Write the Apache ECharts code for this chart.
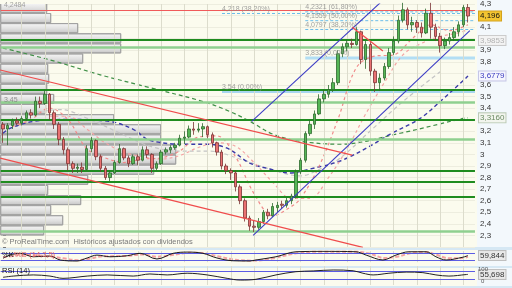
<!DOCTYPE html>
<html><head><meta charset="utf-8">
<script src="https://cdn.jsdelivr.net/npm/echarts@6/dist/echarts.min.js"></script>
<style>html,body{margin:0;padding:0;background:#f3f8fc;}#c{width:512px;height:288px;}</style>
</head><body><div id="c"></div>
<script>
// ---------- DATA ----------
const opens  = [3.26,3.22,3.25,3.29,3.27,3.31,3.36,3.34,3.46,3.44,3.52,3.36,3.26,3.13,3.04,2.92,2.88,2.89,2.87,3.05,3.12,2.98,2.88,2.80,2.84,2.93,3.05,2.97,2.92,2.98,2.95,3.04,3.00,2.88,2.92,3.02,3.04,3.06,3.08,3.14,3.15,3.22,3.21,3.22,3.24,3.17,3.10,3.02,2.90,2.86,2.84,2.72,2.60,2.45,2.38,2.37,2.42,2.50,2.47,2.54,2.57,2.56,2.60,2.64,2.85,2.95,3.18,3.26,3.35,3.48,3.52,3.56,3.62,3.87,3.93,3.96,3.95,4.06,3.82,3.95,3.72,3.62,3.66,3.76,3.88,3.98,4.16,4.25,4.12,4.14,4.10,4.05,4.22,4.10,4.02,3.94,3.98,4.01,4.06,4.12,4.27];
const closes = [3.22,3.25,3.29,3.27,3.31,3.36,3.34,3.46,3.44,3.52,3.36,3.26,3.13,3.04,2.92,2.88,2.89,2.87,3.05,3.12,2.98,2.88,2.80,2.84,2.93,3.05,2.97,2.92,2.98,2.95,3.04,3.00,2.88,2.92,3.02,3.04,3.06,3.08,3.14,3.15,3.22,3.21,3.22,3.24,3.17,3.10,3.02,2.90,2.86,2.84,2.72,2.60,2.45,2.38,2.37,2.42,2.50,2.47,2.55,2.56,2.56,2.60,2.64,2.85,2.95,3.18,3.26,3.35,3.48,3.52,3.56,3.62,3.87,3.93,3.96,3.95,4.06,3.82,3.95,3.72,3.62,3.66,3.76,3.88,3.98,4.16,4.25,4.12,4.14,4.10,4.05,4.22,4.10,4.02,3.94,3.98,4.01,4.06,4.12,4.27,4.196];
const lows   = [3.10,3.08,3.22,3.25,3.25,3.29,3.31,3.33,3.40,3.43,3.30,3.22,3.08,3.00,2.86,2.84,2.84,2.84,2.86,3.02,2.95,2.85,2.78,2.77,2.83,2.92,2.95,2.89,2.91,2.91,2.94,2.97,2.84,2.86,2.91,3.00,3.01,3.04,3.07,3.09,3.14,3.17,3.19,3.15,3.14,3.06,2.99,2.87,2.83,2.78,2.68,2.57,2.42,2.34,2.33,2.35,2.40,2.44,2.46,2.50,2.53,2.54,2.57,2.62,2.83,2.93,3.16,3.22,3.34,3.45,3.49,3.54,3.60,3.84,3.89,3.92,3.94,3.78,3.74,3.68,3.54,3.55,3.64,3.74,3.86,3.96,4.14,4.08,4.06,4.05,4.01,4.04,4.00,3.98,3.88,3.91,3.95,3.98,4.02,4.10,4.14];
const highs  = [3.28,3.27,3.31,3.32,3.33,3.38,3.39,3.50,3.50,3.56,3.53,3.38,3.28,3.15,3.06,2.94,2.92,2.93,3.08,3.15,3.13,3.00,2.90,2.86,2.95,3.09,3.06,2.99,3.00,3.00,3.07,3.07,3.01,2.94,3.04,3.06,3.08,3.10,3.17,3.20,3.25,3.28,3.27,3.27,3.25,3.19,3.11,3.04,2.92,2.88,2.86,2.74,2.62,2.47,2.43,2.45,2.52,2.53,2.58,2.59,2.60,2.63,2.66,2.87,2.97,3.20,3.30,3.38,3.52,3.56,3.60,3.66,3.90,3.96,3.99,4.00,4.10,4.07,3.98,3.97,3.74,3.70,3.79,3.92,4.02,4.20,4.31,4.27,4.19,4.16,4.14,4.26,4.31,4.13,4.05,4.01,4.05,4.10,4.15,4.29,4.30];

// price tick labels hidden under value tags
const hiddenTicks = [4.2, 4.0, 3.7, 3.3, 2.2];
// vertical grid (weekly) days
const gridDays = [4,9,14,19,24,29,34,39,44,49,54,59,64,69,74,79,84,89,94,99];

// volume at price: bin lower edges (price) and volume (k)
const vapLow = [2.300,2.387,2.475,2.562,2.649,2.737,2.824,2.912,2.999,3.086,3.174,3.261,3.348,3.436,3.523,3.611,3.698,3.785,3.873,3.960,4.047,4.135,4.222];
const vapTop = 4.309;
const vapVolume = [43,62,50,80,47,87,153,175,175,160,160,113,45,53,46,48,47,82,120,120,77,50,46];

// moving averages [day, price]
const maGreen = [[0,3.919],[10.1,3.817],[20.9,3.688],[31.6,3.577],[43.0,3.457],[48.8,3.371],[53.5,3.277],[58.1,3.174],[63.9,3.114],[72.5,3.088],[85.4,3.183],[98.9,3.311],[100,3.316]];
const maBlue = [[0,3.183],[1.5,3.225],[6.5,3.285],[13.8,3.302],[23.0,3.285],[28.0,3.217],[31.6,3.122],[39.6,3.088],[43.9,3.088],[48.2,3.054],[53.1,2.925],[57.4,2.874],[61.7,2.840],[66.0,2.874],[72.5,2.943],[78.9,3.071],[83.2,3.174],[89.7,3.311],[94.0,3.457],[99.4,3.654],[100,3.6779]];
const maGray = [[5.8,3.354],[12.3,3.388],[18.7,3.302],[25.2,3.183],[31.6,3.071],[38.1,3.028],[44.5,3.028],[51,2.96],[57.4,2.874],[63.9,2.814],[68.2,2.874],[72.5,2.968],[78.9,3.2],[86,3.457],[94,3.714]];
const maPinkFast = [[2,3.24],[6,3.30],[10,3.40],[14,3.30],[18,3.05],[22,2.97],[26,2.93],[30,2.96],[34,2.97],[38,3.03],[42,3.15],[46,3.16],[50,2.98],[54,2.66],[58,2.47],[62,2.55],[64,2.62],[68,2.90],[72,3.30],[76,3.75],[80,3.85],[84,3.86],[88,4.00],[92,4.12],[96,4.07],[100,4.12]];
const maPinkSlow = [[10,3.33],[14,3.33],[18,3.22],[22,3.10],[26,3.02],[30,2.98],[34,2.96],[38,2.99],[42,3.06],[46,3.10],[50,3.07],[54,2.93],[58,2.76],[62,2.62],[66,2.62],[70,2.80],[74,3.05],[78,3.35],[82,3.62],[86,3.86],[90,3.96],[94,4.02],[98,4.05],[100,4.08]];

// trend lines [day, price]
const channelUpper = [[53.5,3.285],[81.1,4.31]];
const channelLower = [[53.8,2.30],[100.4,4.07]];
const redUpper = [[-0.6,3.73],[75.1,2.994]];
const redLower = [[-0.6,2.968],[77.4,2.197]];
const redShort = [[75.1,4.10],[81.7,3.894]];

// horizontal levels
const redLevels = [4.25];
const greenDark = [3.99,3.557,3.30,2.857,2.763,2.634];
const greenLight = [3.934,3.448,3.128,2.337];
const fibLevels = [4.218,4.2321,4.1559,4.0797];
const fibStart = [47.1,65,65,65];
const fibText = ['4,218 (38,20%)','4,2321 (61,80%)','4,1559 (50,00%)','4,0797 (38,20%)'];
const zeroLevels = [3.833,3.54];
const zeroStart = [65,47.1];
const zeroText = ['3,833 (0,00%)','3,54 (0,00%)'];

// stochastic %K / %D  [day, value]
const stochK = [[0,35],[1.5,64],[3.7,80],[6.5,49],[10.1,55],[12.3,20],[15.9,11],[18.1,38],[20.2,64],[23,49],[26.7,58],[29.5,80],[33.1,29],[36.6,80],[39.6,91],[43,80],[46,38],[49.5,13],[53.1,11],[54.4,20],[58.7,49],[63,94],[68.8,98],[75.9,94],[78.1,64],[81.7,20],[84.5,64],[87.3,94],[91,94],[93.1,49],[95.3,20],[98.9,45],[100,59.844]];
const stochD = [[0,45],[2,55],[4,68],[7,62],[10,52],[13,35],[16,18],[19,35],[21,52],[24,55],[27,58],[30,70],[33,50],[36,62],[40,85],[43,82],[46,55],[50,22],[54,14],[58,35],[63,80],[68,95],[76,95],[79,75],[82,38],[85,52],[88,85],[91,92],[93,70],[96,35],[99,38],[100,48]];
const stochLevels = [80,20];
// RSI(14) [day, value]
const rsi = [[0,40.5],[2.2,47],[6.5,53],[10.1,47],[12.9,35],[18.1,47],[22.4,53],[28,47],[31.6,58],[35.3,53],[39.6,62],[43.9,53],[48.2,35],[51,26],[54.4,30],[58.7,53],[63,70],[66.7,74],[71,79],[75.3,75],[77.4,62],[79.6,53],[83,62],[86.7,68],[90.3,65],[93.1,53],[95.9,47],[99.6,55],[100,55.698]];
const rsiLevels = [70,30];

// ---------- CHART ----------
const N = 102;
const days = Array.from({length: N}, (_, i) => 'd' + i);
const candles = opens.map((o, i) => [o, closes[i], lows[i], highs[i]]);
const FONT = 'Liberation Sans';
const L = 0.675, W = 474.3;

function hLine(data, color, width, type, z) {
  return {type:'line', xAxisIndex:1, yAxisIndex:0, data, symbol:'none', silent:true, z: z||3,
    lineStyle:{color, width, type: type||'solid'}};
}
function ma(data, color, width, type, xi, yi, z) {
  return {type:'line', xAxisIndex:xi, yAxisIndex:yi, data, symbol:'none', smooth:0.35, silent:true, z: z||4,
    lineStyle:{color, width, type: type||'dashed'}};
}
function vGrid(xi, yi) {
  return {type:'line', xAxisIndex:xi, yAxisIndex:yi, data:[], silent:true, z:1,
    markLine:{silent:true, symbol:['none','none'], label:{show:false}, animation:false,
      lineStyle:{color:'#dcdccc', width:1, type:'solid'}, data: gridDays.map(d => ({xAxis:d}))}};
}
function levelLines(xi, yi, vals, color, width) {
  return {type:'line', xAxisIndex:xi, yAxisIndex:yi, data:[], silent:true, z:3,
    markLine:{silent:true, symbol:['none','none'], label:{show:false}, animation:false,
      lineStyle:{color, width, type:'solid'}, data: vals.map(v => ({yAxis:v}))}};
}

const series = [];
// volume at price profile
series.push({
  type:'custom', xAxisIndex:2, yAxisIndex:0, z:1, silent:true, clip:true,
  data: vapLow.map((lo, i) => [vapVolume[i], lo, i + 1 < vapLow.length ? vapLow[i+1] : vapTop]),
  encode:{x:0, y:[1,2]},
  renderItem: function (params, api) {
    const a = api.coord([0, api.value(2)]);
    const b = api.coord([api.value(0), api.value(1)]);
    return {type:'rect', shape:{x:a[0], y:a[1] + 0.5, width:b[0] - a[0], height:b[1] - a[1] - 1},
      style:{fill:new echarts.graphic.LinearGradient(0,0,0,1,[{offset:0,color:'#f7f7f7'},{offset:0.55,color:'#e0e0e0'},{offset:1,color:'#c4c4c4'}]),
        stroke:'#a2a2a2', lineWidth:1}};
  }
});
series.push(vGrid(1,0), vGrid(3,1), vGrid(4,2));
// horizontal levels
series.push(levelLines(1,0,redLevels,'#f05a5a',1.2));
series.push(levelLines(1,0,greenLight,'#8fd08f',2.5));
series.push(levelLines(1,0,greenDark,'#1f8c1f',1.8));
fibLevels.forEach((v,i) => series.push(hLine([[fibStart[i],v],[101.5,v]],'#6cbdea',1,[3,2],3)));
series.push(hLine([[zeroStart[0],zeroLevels[0]],[101.5,zeroLevels[0]]],'#b2def4',3,'solid',3));
series.push(hLine([[zeroStart[1],zeroLevels[1]],[101.5,zeroLevels[1]]],'#8ccaf0',1.5,'solid',3));
// moving averages
series.push(ma(maGreen,'#3f8f46',1.2,[4,3],1,0));
series.push(ma(maGray,'#c4c4c4',1.2,[4,3],1,0));
series.push(ma(maBlue,'#3a3aa8',1.4,[4,3],1,0));
series.push(ma(maPinkSlow,'#f4a4a4',1.2,[3,3],1,0));
series.push(ma(maPinkFast,'#f08a8a',1.2,[3,3],1,0));
// candles
series.push({type:'candlestick', xAxisIndex:0, yAxisIndex:0, data:candles, barWidth:3, z:5, silent:true,
  itemStyle:{color:'#56b656', color0:'#ea7272', borderColor:'#2d6a2d', borderColor0:'#7a3434', borderWidth:0.8}});
// trend lines
series.push(hLine(channelUpper,'#3c3cc4',1.1,'solid',6));
series.push(hLine(channelLower,'#3c3cc4',1.1,'solid',6));
series.push(hLine(redUpper,'#f04c4c',1.1,'solid',6));
series.push(hLine(redLower,'#f04c4c',1.1,'solid',6));
series.push(hLine(redShort,'#f04c4c',1.3,'solid',6));
// fib labels
const notes = fibLevels.map((v,i) => ({value:[fibStart[i], v], label:{formatter: fibText[i]}}))
  .concat(zeroLevels.map((v,i) => ({value:[zeroStart[i], v], label:{formatter: zeroText[i]}})));
notes.push({value:[0, 4.2484], label:{formatter:'4,2484', color:'#8c8c8c', position:[1,-8]}});
notes.push({value:[0, 3.45], label:{formatter:'3,45', color:'#7c7c7c', position:[1,-6]}});
series.push({type:'scatter', xAxisIndex:1, yAxisIndex:0, symbolSize:0, z:7, silent:true, clip:false,
  data:notes, label:{show:true, position:[0,-8], color:'#8a8a8a', fontSize:7, fontFamily:FONT}});
// stochastic panel
series.push(levelLines(3,1,stochLevels,'#5c5ce4',1));
series.push(ma(stochD,'#f2a2a2',2,[4,2],3,1,4));
series.push(ma(stochK,'#1c1c1c',1,'solid',3,1,5));
// RSI panel
series.push(levelLines(4,2,rsiLevels,'#5c5ce4',1));
series.push(ma(rsi,'#222222',1,'solid',4,2,5));

const hidden = x => false;
const option = {
  animation:false,
  grid:[
    {left:L, top:2, width:W, height:245},
    {left:L, top:251.1, width:W, height:11.1},
    {left:L, top:266, width:W, height:19}
  ],
  xAxis:[
    {type:'category', gridIndex:0, data:days, boundaryGap:true, show:false},
    {type:'value', gridIndex:0, min:-0.5, max:101.5, show:false},
    {type:'value', gridIndex:0, min:0, max:W, show:false},
    {type:'value', gridIndex:1, min:-0.5, max:101.5, show:false},
    {type:'value', gridIndex:2, min:-0.5, max:101.5, show:false}
  ],
  yAxis:[
    {type:'value', gridIndex:0, min:2.2, max:4.3, interval:0.1, position:'right',
      axisLine:{show:false},
      axisTick:{show:true, length:3, lineStyle:{color:'#777'}},
      splitLine:{show:true, lineStyle:{color:'#ededdf', width:1}},
      axisLabel:{color:'#333', fontSize:8, fontFamily:FONT, margin:5,
        formatter: v => { const r = Math.round(v*10)/10; return hiddenTicks.some(h => Math.abs(h-r) < 1e-6) ? '' : String(r).replace('.', ','); }}},
    {type:'value', gridIndex:1, min:0, max:100, show:false},
    {type:'value', gridIndex:2, min:0, max:100, show:false}
  ],
  series
};
const chart = echarts.init(document.getElementById('c'), null, {renderer:'canvas', width:512, height:288});
chart.setOption(option);

// backgrounds and value tags
const bg = [
  {type:'rect', z:-10, shape:{x:0,y:0,width:477,height:247}, style:{fill:'#fbfbee'}},
  {type:'rect', z:-10, shape:{x:0,y:247,width:512,height:3}, style:{fill:'#d6e8f4'}},
  {type:'rect', z:-10, shape:{x:0,y:250,width:477,height:16}, style:{fill:'#fbfbee'}},
  {type:'rect', z:-10, shape:{x:0,y:266,width:512,height:2}, style:{fill:'#d6e8f4'}},
  {type:'rect', z:-10, shape:{x:0,y:268,width:477,height:18}, style:{fill:'#fbfbee'}},
  {type:'rect', z:-10, shape:{x:0,y:286,width:512,height:2}, style:{fill:'#d6e8f4'}}
];
const py = (yi, v) => chart.convertToPixel({yAxisIndex:yi}, v);
const tags = [
  {yi:0, v:closes[closes.length-1], text:'4,196', bg:'#f3c531', fg:'#111', bd:'#d4a21c'},
  {yi:0, v:3.9853, text:'3,9853', bg:'#f3f3f3', fg:'#b2b2b2', bd:'#c9c9c9'},
  {yi:0, v:maBlue[maBlue.length-1][1], text:'3,6779', bg:'#f5f5fd', fg:'#3c3cc0', bd:'#c6c6e6'},
  {yi:0, v:maGreen[maGreen.length-1][1], text:'3,3160', bg:'#f2f5ee', fg:'#6a8a62', bd:'#bccab6'},
  {yi:1, v:stochK[stochK.length-1][1], text:'59,844', bg:'#e9e9e9', fg:'#333', bd:'#bdbdbd'},
  {yi:2, v:rsi[rsi.length-1][1], text:'55,698', bg:'#e9e9e9', fg:'#333', bd:'#bdbdbd'}
];
const tagEls = tags.map(t => ({type:'text', z:30, x:479, y:py(t.yi, t.v),
  style:{text:t.text, fill:t.fg, fontSize:8, fontFamily:FONT, backgroundColor:t.bg, borderColor:t.bd, borderWidth:1,
    padding:[1,1,0,1], verticalAlign:'middle', align:'left'}}));
const texts = [
  {type:'text', z:30, x:2, y:242, style:{text:'© ProRealTime.com  Históricos ajustados con dividendos', fill:'#7a7a7a', fontSize:7.5, fontFamily:FONT, verticalAlign:'middle'}},
  {type:'text', z:30, x:2, y:255, style:{text:'%K', fill:'#111', fontSize:7.5, fontFamily:FONT, verticalAlign:'middle'}},
  {type:'text', z:30, x:13, y:255, style:{text:'/%D (14,3,5)', fill:'#e06060', fontSize:7.5, fontFamily:FONT, verticalAlign:'middle'}},
  {type:'text', z:30, x:2, y:271, style:{text:'RSI (14)', fill:'#111', fontSize:7.5, fontFamily:FONT, verticalAlign:'middle'}},
  {type:'text', z:30, x:478, y:269, style:{text:'100', fill:'#555', fontSize:6, fontFamily:FONT, verticalAlign:'middle'}},
  {type:'text', z:30, x:481, y:281, style:{text:'0', fill:'#555', fontSize:6, fontFamily:FONT, verticalAlign:'middle'}}
];
chart.setOption({graphic: bg.concat(tagEls, texts)});
</script></body></html>
